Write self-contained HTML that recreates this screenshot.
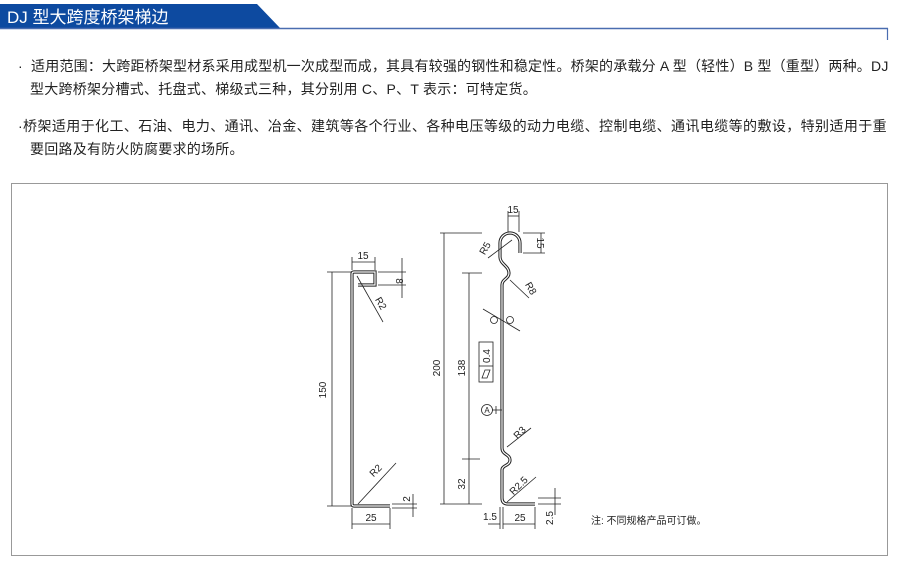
<!DOCTYPE html>
<html><head><meta charset="utf-8"><style>
body{margin:0;width:900px;height:570px;background:#fff;position:relative;overflow:hidden;font-family:"Liberation Sans","Noto Sans CJK SC",sans-serif;}
.t{position:absolute;left:18px;font-size:14px;letter-spacing:0.25px;color:#222;white-space:nowrap;line-height:23px;}
</style></head><body>
<svg width="900" height="570" style="position:absolute;left:0;top:0">
<polygon points="0,4 257,4 280,28 0,28" fill="#0d4aa0"/>
<line x1="0" y1="28.5" x2="888" y2="28.5" stroke="#4a6db0" stroke-width="1.5"/>
<line x1="887.5" y1="28" x2="887.5" y2="40" stroke="#4a6db0" stroke-width="1.2"/>
<text x="7" y="23" fill="#fff" font-size="17" font-family="Liberation Sans,Noto Sans CJK SC,sans-serif">DJ 型大跨度桥架梯边</text>
<rect x="11.5" y="183.5" width="876" height="372" fill="none" stroke="#999" stroke-width="1"/>
<g fill="none" stroke="#222" stroke-width="0.8">
<path d="M390,506 L354,506 Q352,506 352,504 L352,274 Q352,272 354,272 L375,272 L375,285 L358,285" stroke-width="3.2"/>
<path d="M390,506 L354,506 Q352,506 352,504 L352,274 Q352,272 354,272 L375,272 L375,285 L358,285" stroke="#fff" stroke-width="1.2"/>
<line x1="332" y1="272" x2="332" y2="506"/><line x1="327" y1="272" x2="352" y2="272"/><line x1="327" y1="506" x2="352" y2="506"/>
<line x1="352" y1="262" x2="375" y2="262"/><line x1="352" y1="257" x2="352" y2="270"/><line x1="375" y1="257" x2="375" y2="270"/>
<line x1="378" y1="272" x2="406" y2="272"/><line x1="378" y1="285" x2="406" y2="285"/><line x1="402" y1="258" x2="402" y2="298"/>
<line x1="357" y1="276" x2="383" y2="322"/>
<line x1="358" y1="504" x2="396" y2="463"/>
<line x1="392" y1="504" x2="417" y2="504"/><line x1="392" y1="508" x2="417" y2="508"/><line x1="413" y1="494" x2="413" y2="517"/>
<line x1="352" y1="524" x2="390" y2="524"/><line x1="352" y1="508" x2="352" y2="529"/><line x1="390" y1="508" x2="390" y2="529"/>
<path d="M535,504 L508,504 Q502,504 502,498 L502,470 C502,465 510,466 510,460 C510,454 502,455 502,448 L502,285 C502,279 509,279 509,273 C509,266 500,264 500,257 L500,243 A10,10 0 0 1 520,243 L520,253" stroke-width="3.2"/>
<path d="M535,504 L508,504 Q502,504 502,498 L502,470 C502,465 510,466 510,460 C510,454 502,455 502,448 L502,285 C502,279 509,279 509,273 C509,266 500,264 500,257 L500,243 A10,10 0 0 1 520,243 L520,253" stroke="#fff" stroke-width="1.2"/>
<line x1="444" y1="233" x2="444" y2="504"/><line x1="440" y1="233" x2="482" y2="233"/><line x1="440" y1="504" x2="482" y2="504"/>
<line x1="469" y1="273" x2="469" y2="504"/><line x1="462" y1="273" x2="482" y2="273"/><line x1="462" y1="459" x2="480" y2="459"/>
<line x1="508" y1="216" x2="519" y2="216"/><line x1="508" y1="211" x2="508" y2="232"/><line x1="519" y1="211" x2="519" y2="232"/>
<line x1="523" y1="233" x2="545" y2="233"/><line x1="523" y1="253" x2="545" y2="253"/><line x1="541" y1="233" x2="541" y2="253"/>
<line x1="512" y1="240" x2="488" y2="258"/>
<line x1="510" y1="280" x2="529" y2="298"/>
<line x1="483" y1="309" x2="520" y2="331"/>
<circle cx="494" cy="320" r="3.5"/><circle cx="510" cy="320" r="3.5"/>
<rect x="479" y="342" width="14" height="40"/><line x1="479" y1="366" x2="493" y2="366"/>
<polygon points="482,378 485,370 490,370 487,378"/>
<circle cx="487" cy="410" r="5.5"/><line x1="492" y1="410" x2="502" y2="410"/><line x1="496" y1="406" x2="496" y2="414"/>
<line x1="507" y1="447" x2="531" y2="428"/>
<line x1="507" y1="502" x2="536" y2="477"/>
<line x1="538" y1="498" x2="561" y2="498"/><line x1="538" y1="504" x2="561" y2="504"/><line x1="555" y1="488" x2="555" y2="515"/>
<line x1="500" y1="507" x2="500" y2="529"/><line x1="503" y1="507" x2="503" y2="529"/><line x1="535" y1="507" x2="535" y2="529"/>
<line x1="503" y1="524" x2="535" y2="524"/><line x1="488" y1="524" x2="500" y2="524"/>
</g>
<g font-size="10" fill="#222" font-family="Liberation Sans,sans-serif" text-anchor="middle">
<text x="363" y="259">15</text>
<text transform="translate(396,281) rotate(90)">8</text>
<text transform="translate(326,390) rotate(-90)">150</text>
<text transform="translate(378,305) rotate(60)">R2</text>
<text transform="translate(378,473) rotate(-45)">R2</text>
<text transform="translate(410,499) rotate(-90)">2</text>
<text x="371" y="521">25</text>
<text transform="translate(440,368) rotate(-90)">200</text>
<text transform="translate(465,368) rotate(-90)">138</text>
<text transform="translate(465,484) rotate(-90)">32</text>
<text x="513" y="213">15</text>
<text transform="translate(537,243) rotate(90)">15</text>
<text transform="translate(488,250) rotate(-60)">R5</text>
<text transform="translate(528,290) rotate(60)">R8</text>
<text transform="translate(490,356) rotate(-90)">0.4</text>
<text x="487" y="413" font-size="8">A</text>
<text transform="translate(522,435) rotate(-45)">R3</text>
<text transform="translate(521,488) rotate(-45)">R2.5</text>
<text transform="translate(553,518) rotate(-90)">2.5</text>
<text x="490" y="520">1.5</text>
<text x="520" y="521">25</text>
</g>
<text x="591" y="524" font-size="10" fill="#222" font-family="Liberation Sans,Noto Sans CJK SC,sans-serif">注: 不同规格产品可订做。</text>
</svg>
<div class="t" style="top:55px;letter-spacing:0.2px">·&nbsp; 适用范围：大跨距桥架型材系采用成型机一次成型而成，其具有较强的钢性和稳定性。桥架的承载分 A 型（轻性）B 型（重型）两种。DJ</div>
<div class="t" style="top:78px;left:30px">型大跨桥架分槽式、托盘式、梯级式三种，其分别用 C、P、T 表示：可特定货。</div>
<div class="t" style="top:115px;letter-spacing:0.4px">·桥架适用于化工、石油、电力、通讯、冶金、建筑等各个行业、各种电压等级的动力电缆、控制电缆、通讯电缆等的敷设，特别适用于重</div>
<div class="t" style="top:138px;left:30px">要回路及有防火防腐要求的场所。</div>
</body></html>
